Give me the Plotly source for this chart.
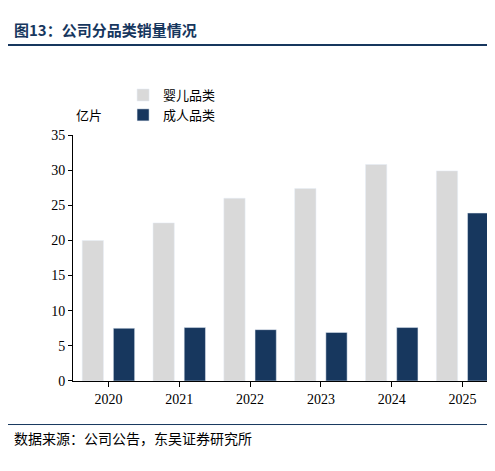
import plotly.graph_objects as go

years = ["2020", "2021", "2022", "2023", "2024", "2025"]
baby = [20.0, 22.5, 26.0, 27.4, 30.8, 29.9]
adult = [7.5, 7.6, 7.3, 6.9, 7.6, 23.9]

H = 471
W = 495
def py(px_y):
    return 1 - px_y / H

fig = go.Figure()
fig.add_bar(x=years, y=baby, name="婴儿品类", marker_color="#d9d9d9", width=0.3, offset=-0.37)
fig.add_bar(x=years, y=adult, name="成人品类", marker_color="#17375e", width=0.3, offset=0.07)

fig.update_layout(
    autosize=False, width=W, height=H,
    margin=dict(l=0, r=0, t=0, b=0),
    plot_bgcolor="white", paper_bgcolor="white",
    font=dict(family="Liberation Serif, Noto Sans CJK SC", size=14, color="black"),
    showlegend=True,
    legend=dict(orientation="h", x=160 / W, y=py(93), xanchor="left", yanchor="middle",
                font=dict(family="Noto Sans CJK SC", size=13),
                traceorder="normal", entrywidthmode="pixels", entrywidth=145),
    xaxis=dict(domain=[65 / W, 490 / W], showline=True, linecolor="black",
               ticks="outside", ticklen=5, tickcolor="black",
               tickfont=dict(family="Liberation Serif", size=14)),
    yaxis=dict(domain=[py(378), py(124)], range=[0, 35], dtick=5, showline=True,
               linecolor="black", ticks="outside", ticklen=4, tickcolor="black",
               showgrid=False, zeroline=False,
               tickfont=dict(family="Liberation Serif", size=14)),
    shapes=[
        dict(type="line", xref="paper", yref="paper", x0=0, x1=1, y0=py(31), y1=py(31),
             line=dict(color="#17375e", width=2)),
        dict(type="line", xref="paper", yref="paper", x0=0, x1=1, y0=py(423), y1=py(423),
             line=dict(color="#17375e", width=1)),
    ],
    annotations=[
        dict(text="<b>图13：公司分品类销量情况</b>", xref="paper", yref="paper", x=0.008, y=py(15),
             xanchor="left", yanchor="middle", showarrow=False,
             font=dict(family="Noto Sans CJK SC", size=15, color="#17375e")),
        dict(text="亿片", xref="paper", yref="paper", x=66 / W, y=py(103),
             xanchor="left", yanchor="middle", showarrow=False,
             font=dict(family="Noto Sans CJK SC", size=13)),
        dict(text="数据来源：公司公告，东吴证券研究所", xref="paper", yref="paper", x=0.008, y=py(437),
             xanchor="left", yanchor="middle", showarrow=False,
             font=dict(family="Noto Sans CJK SC", size=14)),
    ],
)

fig.write_html("out.html", config={"responsive": False})
